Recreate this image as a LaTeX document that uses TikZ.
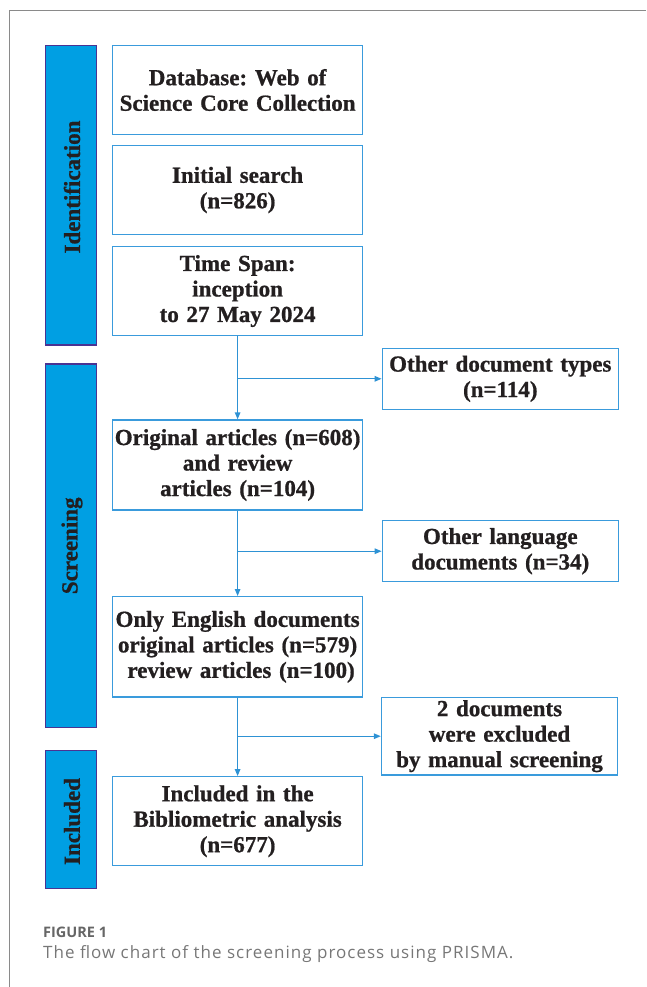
\documentclass[tikz,border=0pt]{standalone}
\usepackage{fontspec}
\setmainfont[BoldFeatures={FakeBold=0.8}]{Liberation Serif}
\newfontfamily\capfont[LetterSpace=6]{Open Sans}
\newfontfamily\figfont{Open Sans}
\usetikzlibrary{arrows.meta}
\definecolor{barfill}{HTML}{009FE3}
\definecolor{barline}{HTML}{4A3392}
\definecolor{boxline}{HTML}{3A9BDC}
\definecolor{arrowc}{HTML}{2E92D4}
\definecolor{txt}{HTML}{231F20}
\definecolor{frame}{HTML}{8A8A8A}
\definecolor{capgray}{HTML}{777777}
\definecolor{figgray}{HTML}{666666}
\tikzset{
  stagebar/.style={draw=barline, line width=1.2pt, fill=barfill, minimum width=51.7pt, inner sep=0pt},
  stagetext/.style={rotate=90, text=txt, font=\fontsize{23}{26}\selectfont\bfseries, inner sep=0pt},
  flowbox/.style={draw=boxline, line width=1.3pt, fill=white, align=center, text=txt,
    font=\fontsize{23}{25.5}\selectfont\bfseries, inner sep=0pt, text width=250pt},
  mainbox/.style={flowbox, minimum width=250pt},
  sidebox/.style={flowbox, minimum width=236pt, text width=236pt},
  flowline/.style={draw=arrowc, line width=1.3pt},
  flowarrow/.style={flowline, -{Triangle[length=7pt,width=5.5pt]}}
}
\begin{document}
\frenchspacing
\begin{tikzpicture}[x=1pt,y=-1pt]
\useasboundingbox (0,0) rectangle (646,987);
% outer frame
\draw[frame, line width=0.9pt] (9,987) -- (9,10.5) -- (646,10.5);
% stage bars
\node[stagebar, minimum height=299.7pt] (idbar) at (71,195.2) {};
\node[stagetext] (idtext) at (72,187) {Identification};
\node[stagebar, minimum height=363.7pt] (scbar) at (71,545.8) {};
\node[stagetext] (sctext) at (72,545.8) {Screening};
\node[stagebar, minimum height=137.6pt] (inbar) at (71,819.5) {};
\node[stagetext] (intext) at (72,821.5) {Included};
% main boxes
\node[mainbox, minimum height=89.4pt] (b1) at (237.6,90) {Database: Web of\\Science Core Collection};
\node[mainbox, minimum height=88.6pt] (b2) at (237.6,190) {Initial search\\(n=826)};
\node[mainbox, minimum height=88.6pt] (b3) at (237.6,291) {Time Span:\\inception\\to 27 May 2024};
\node[mainbox, minimum height=90pt] (b4) at (237.6,465) {Original articles (n=608)\\and review\\articles (n=104)};
\node[mainbox, minimum height=100.3pt] (b5) at (237.6,646.8) {Only English documents\\original articles (n=579)\\\hspace*{7pt}review articles (n=100)};
\node[mainbox, minimum height=89pt] (b6) at (237.6,821.2) {Included in the\\Bibliometric analysis\\(n=677)};
% side boxes
\node[sidebox, minimum height=61pt] (o1) at (500.3,378.8) {Other document types\\(n=114)};
\node[sidebox, minimum height=61pt] (o2) at (500.3,551.2) {Other language\\documents (n=34)};
\node[sidebox, minimum height=77.7pt] (o3) at (499.5,736.2) {2 documents\\were excluded\\by manual screening};
% connectors
\draw[flowarrow] (b3.south) -- (b4.north);
\draw[flowarrow] (b4.south) -- (b5.north);
\draw[flowarrow] (b5.south) -- (b6.north);
\coordinate (j1) at (b3.south |- o1.west);
\coordinate (j2) at (b4.south |- o2.west);
\coordinate (j3) at (b5.south |- o3.west);
\draw[flowarrow] (j1) -- (o1.west);
\draw[flowarrow] (j2) -- (o2.west);
\draw[flowarrow] (j3) -- (o3.west);
% caption
\node[anchor=base west, inner sep=0pt, text=figgray, font=\figfont\fontsize{14.5}{17}\selectfont\bfseries] (figlabel) at (43,937) {FIGURE 1};
\node[anchor=base west, inner sep=0pt, text=capgray, font=\capfont\fontsize{17}{20}\selectfont] (figcap) at (43,958.5) {The flow chart of the screening process using PRISMA.};
\end{tikzpicture}
\end{document}
